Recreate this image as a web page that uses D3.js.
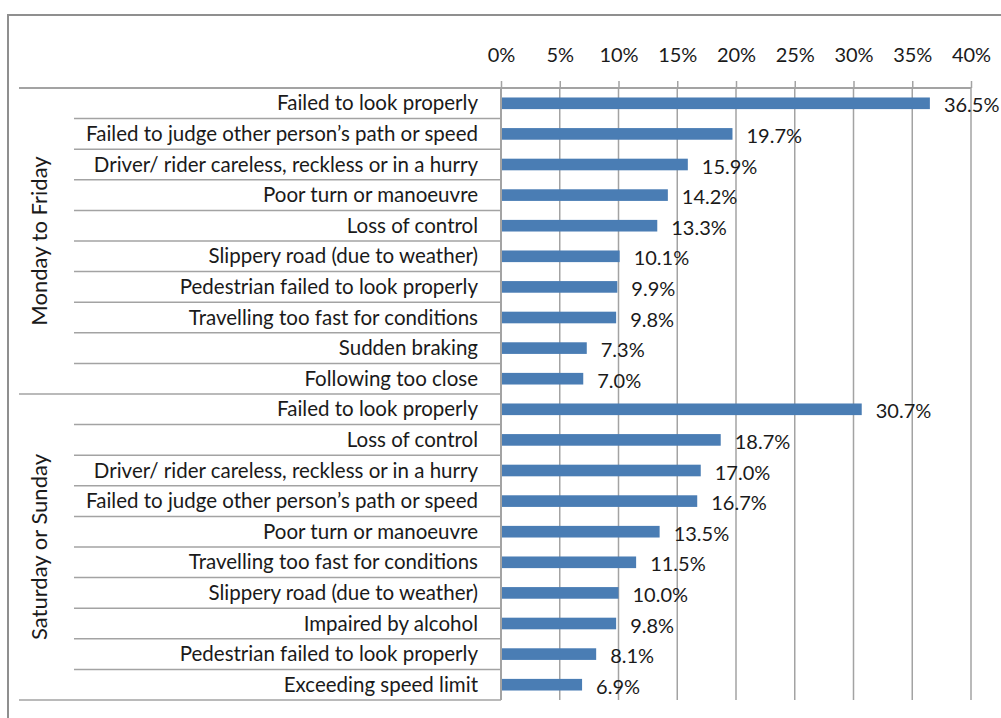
<!DOCTYPE html>
<html>
<head>
<meta charset="utf-8">
<script src="https://cdn.jsdelivr.net/npm/d3@7"></script>
<style>
  body { margin: 0; background: #fff; }
  svg text { font-family: Lato, "Liberation Sans", sans-serif; fill: #1a1a1a; }
</style>
</head>
<body>
<svg id="chart" width="1001" height="718"></svg>
<script>
// groups and their causes, top to bottom
const groups = ["Monday to Friday", "Saturday or Sunday"];

const weekdayCauses = [
  "Failed to look properly",
  "Failed to judge other person\u2019s path or speed",
  "Driver/ rider careless, reckless or in a hurry",
  "Poor turn or manoeuvre",
  "Loss of control",
  "Slippery road (due to weather)",
  "Pedestrian failed to look properly",
  "Travelling too fast for conditions",
  "Sudden braking",
  "Following too close"
];
const weekdayValues = [36.5, 19.7, 15.9, 14.2, 13.3, 10.1, 9.9, 9.8, 7.3, 7.0];

const weekendCauses = [
  "Failed to look properly",
  "Loss of control",
  "Driver/ rider careless, reckless or in a hurry",
  "Failed to judge other person\u2019s path or speed",
  "Poor turn or manoeuvre",
  "Travelling too fast for conditions",
  "Slippery road (due to weather)",
  "Impaired by alcohol",
  "Pedestrian failed to look properly",
  "Exceeding speed limit"
];
const weekendValues = [30.7, 18.7, 17.0, 16.7, 13.5, 11.5, 10.0, 9.8, 8.1, 6.9];

const tickValues = [0, 5, 10, 15, 20, 25, 30, 35, 40];

// flatten into rows
const rows = [];
weekdayCauses.forEach((c, i) => rows.push({ group: groups[0], cause: c, value: weekdayValues[i], key: "a" + i }));
weekendCauses.forEach((c, i) => rows.push({ group: groups[1], cause: c, value: weekendValues[i], key: "b" + i }));

const svg = d3.select("#chart");
const lineColor = "#a3a3a3";
const barColor = "#4a7db4";

const plotTop = 88, plotBottom = 700;
const x = d3.scaleLinear().domain([0, 40]).range([501, 971]);
const y = d3.scaleBand()
  .domain(rows.map(d => d.key))
  .range([plotTop, plotBottom])
  .paddingInner(0.62)
  .paddingOuter(0.31);

// outer frame (runs off the right and bottom edges)
svg.append("rect")
  .attr("x", 8).attr("y", 15)
  .attr("width", 1100).attr("height", 800)
  .attr("fill", "#fff")
  .attr("stroke", "#8f8f8f")
  .attr("stroke-width", 2);

// gridlines
svg.append("g")
  .selectAll("line")
  .data(tickValues.filter(t => t > 0))
  .join("line")
  .attr("x1", d => x(d)).attr("x2", d => x(d))
  .attr("y1", plotTop).attr("y2", plotBottom)
  .attr("stroke", lineColor)
  .attr("stroke-width", 1.5);

// top axis
const xAxis = svg.append("g")
  .attr("transform", `translate(0,${plotTop})`)
  .call(d3.axisTop(x).tickValues(tickValues).tickFormat(d => d + "%").tickSize(7).tickSizeOuter(0));
xAxis.select(".domain").remove();
xAxis.selectAll(".tick line").attr("stroke", lineColor).attr("stroke-width", 1.5);
xAxis.selectAll(".tick text")
  .attr("y", -33)
  .attr("dy", "0.35em")
  .style("font-size", "20px");

// top horizontal line across the whole chart
svg.append("line")
  .attr("x1", 19).attr("x2", x(40))
  .attr("y1", plotTop).attr("y2", plotTop)
  .attr("stroke", lineColor).attr("stroke-width", 2);

// row separators in the category area
const step = y.step();
const rowTop = d => y(d.key) - y.paddingOuter() * step;
svg.append("g")
  .selectAll("line")
  .data(rows)
  .join("line")
  .attr("x1", (d, i) => (i % 10 === 9) ? 19 : 74)
  .attr("x2", x(0))
  .attr("y1", d => rowTop(d) + step)
  .attr("y2", d => rowTop(d) + step)
  .attr("stroke", lineColor)
  .attr("stroke-width", 1.5);

// vertical axis
svg.append("line")
  .attr("x1", x(0)).attr("x2", x(0))
  .attr("y1", plotTop).attr("y2", plotBottom)
  .attr("stroke", lineColor).attr("stroke-width", 2);

// bars
svg.append("g")
  .selectAll("rect")
  .data(rows)
  .join("rect")
  .attr("x", x(0) + 1)
  .attr("y", d => y(d.key))
  .attr("width", d => x(d.value) - x(0) - 1)
  .attr("height", y.bandwidth())
  .attr("fill", barColor);

// value labels
svg.append("g")
  .selectAll("text")
  .data(rows)
  .join("text")
  .attr("x", d => x(d.value) + 14)
  .attr("y", d => y(d.key) + y.bandwidth() / 2 + 2)
  .attr("dy", "0.35em")
  .style("font-size", "20px")
  .text(d => d.value.toFixed(1) + "%");

// category labels
svg.append("g")
  .selectAll("text")
  .data(rows)
  .join("text")
  .attr("x", 478)
  .attr("y", d => y(d.key) + y.bandwidth() / 2)
  .attr("dy", "0.35em")
  .attr("text-anchor", "end")
  .style("font-size", "20.5px")
  .text(d => d.cause);

// group labels, rotated
svg.append("g")
  .selectAll("text")
  .data(groups)
  .join("text")
  .attr("transform", (g, i) => `translate(47,${plotTop + (i + 0.5) * 10 * step}) rotate(-90)`)
  .attr("text-anchor", "middle")
  .style("font-size", "22px")
  .text(g => g);
</script>
</body>
</html>
